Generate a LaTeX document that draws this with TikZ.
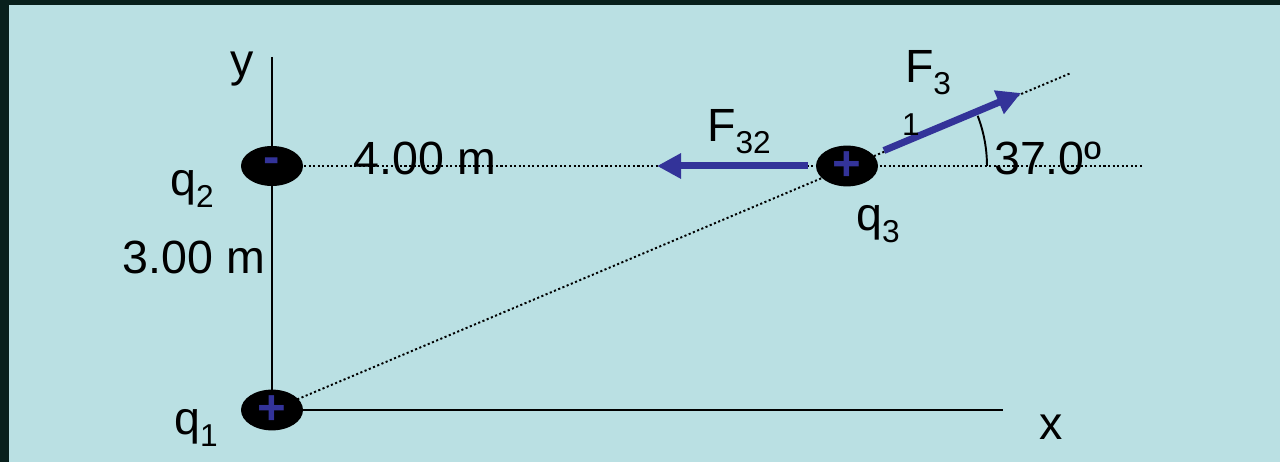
\documentclass[tikz,border=0pt]{standalone}
\usepackage{fontspec}
\setmainfont{Liberation Sans}
\usetikzlibrary{arrows.meta, shapes.geometric, backgrounds}
\definecolor{slatebg}{HTML}{BAE0E3}
\definecolor{frameblk}{HTML}{08201C}
\definecolor{forceblue}{HTML}{333399}
\newcommand{\lowsub}[1]{\raisebox{-6.8pt}{\fontsize{18}{18}\selectfont #1}}

\begin{document}
\begin{tikzpicture}[
    x=0.02cm, y=0.02cm,
    charge/.style={ellipse, fill=black, minimum width=1.24cm, minimum height=0.8cm, inner sep=0pt, text=forceblue, font=\fontsize{28}{28}\selectfont\bfseries},
    lbl/.style={anchor=base, inner sep=0pt, font=\fontsize{26.5}{30}\selectfont},
    small/.style={anchor=base, inner sep=0pt, font=\fontsize{18}{20}\selectfont},
    axis/.style={-, line width=1.1pt, color=black},
    guide/.style={-, line width=1.1pt, dash pattern=on 1.2pt off 1.4pt},
    force/.style={-{Triangle[length=0.48cm, width=0.48cm]}, line width=0.14cm, color=forceblue}
]
    \useasboundingbox (0,0) rectangle (1280,462);

    \node[charge] (q1) at (272, 52) {+};
    \node[charge] (q2) at (272, 296) {\raisebox{-2pt}{-}};
    \node[charge] (q3) at (847, 296) {+};

    \coordinate (ytop) at (272, 405);
    \coordinate (xend) at (1003, 52);
    \coordinate (hend) at (1143, 296);
    \coordinate (ext) at (1071, 389);
    \coordinate (f32tip) at (657, 296);
    \coordinate (f31tip) at (1021, 369);

    \begin{scope}[on background layer]
        \fill[frameblk] (0,0) rectangle (1280,462);
        \fill[slatebg] (9,0) rectangle (1280,457);
        \draw[axis] (ytop) -- (q1.center);
        \draw[axis] (q1.center) -- (xend);
        \draw[guide] (q2.center) -- (hend);
        \draw[guide] (q1.center) -- (ext);
    \end{scope}

    \draw[force, shorten <=0.16cm] (q3.west) -- (f32tip);
    \draw[force, shorten <=0.8cm] (q3.center) -- (f31tip);
    \draw[line width=1.1pt] ([shift={(0:2.8cm)}]q3.center) arc[start angle=0, end angle=21, radius=2.8cm];

    \node[lbl] (ylbl) at (242, 385) {y};
    \node[lbl] (q2lbl) at (192, 266) {q\lowsub{2}};
    \node[lbl] (vdist) at (194, 188) {3.00 m};
    \node[lbl] (q1lbl) at (196, 27) {q\lowsub{1}};
    \node[lbl] (hdist) at (425, 287) {4.00 m};
    \node[lbl] (f32lbl) at (739, 320) {F\lowsub{32}};
    \node[lbl] (f31lbl) at (928, 379) {F\lowsub{3}};
    \node[small] (f31sub) at (911, 326) {1};
    \node[lbl] (q3lbl) at (878, 231) {q\lowsub{3}};
    \node[lbl] (anglbl) at (1048, 287) {37.0º};
    \node[lbl] (xlbl) at (1051, 22) {x};
\end{tikzpicture}
\end{document}
